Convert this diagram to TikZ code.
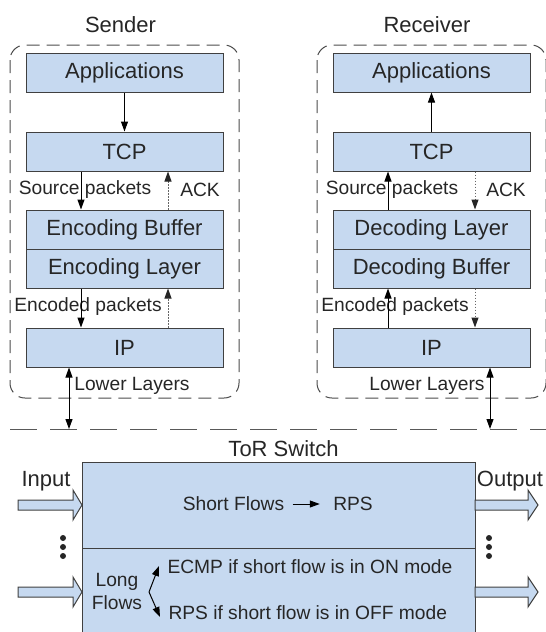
\documentclass[tikz,border=0pt]{standalone}
\usepackage{fontspec}
\setmainfont{Liberation Sans}
\usetikzlibrary{arrows.meta}

\definecolor{layerblue}{RGB}{198,217,240}

\tikzset{
  stackbox/.style={draw=black!75, fill=layerblue, minimum width=98.5pt,
    minimum height=19.5pt, inner sep=0pt, font=\fontsize{11}{13}\selectfont},
  switchpart/.style={draw=black!75, fill=layerblue, minimum width=196.5pt, inner sep=0pt},
  hosttitle/.style={inner sep=0pt, font=\fontsize{11}{13}\selectfont},
  lbl/.style={inner sep=0pt, font=\fontsize{9.6}{11.5}\selectfont},
  hostbox/.style={draw=black!70, dash pattern=on 6.5pt off 3.5pt, rounded corners=7.5pt},
  busline/.style={draw=black!65, dash pattern=on 13.5pt off 6.5pt},
  pktarrow/.style={-{Triangle[length=5pt,width=3.5pt]}},
  ackarrow/.style={-{Triangle[length=5pt,width=3.5pt,black!85]}, black!60,
    dash pattern=on 0.6pt off 0.9pt},
  linkarrow/.style={{Triangle[length=5pt,width=3.5pt]}-{Triangle[length=5pt,width=3.5pt]}},
  fatarrow/.style={draw=black!75, fill=layerblue},
}

\begin{document}
\begin{tikzpicture}[x=0.5pt, y=-0.5pt, line width=0.5pt, text=black!85]

\clip (0,0) rectangle (546,632);

% sender stack
\begin{scope}
  \draw[hostbox] (10,45) rectangle (239,398);
  \node[hosttitle] (sndr) at (120.5,25) {Sender};
  \node[stackbox] (appS) at (124.5,72.5) {Applications};
  \node[stackbox] (tcpS) at (124.5,151.5) {TCP};
  \node[stackbox] (bufS) at (124.5,229.5) {Encoding Buffer};
  \node[stackbox] (encS) at (124.5,268.5) {Encoding Layer};
  \node[stackbox] (ipS) at (124.5,347.5) {IP};
  \node[lbl] (srcS) at (85,190) {Source packets};
  \node[lbl] (ackS) at (200,190) {ACK};
  \node[lbl] (codS) at (88,307) {Encoded packets};
  \node[lbl] (lowS) at (132,386) {Lower Layers};
  \coordinate (busS) at (69,429);
  \draw[pktarrow] (appS) -- (tcpS);
  \draw[pktarrow] ([xshift=-21.75pt]tcpS.south) -- ([xshift=-21.75pt]bufS.north);
  \draw[ackarrow] ([xshift=21.75pt]bufS.north) -- ([xshift=21.75pt]tcpS.south);
  \draw[pktarrow] ([xshift=-21.75pt]encS.south) -- ([xshift=-21.75pt]ipS.north);
  \draw[ackarrow] ([xshift=21.75pt]ipS.north) -- ([xshift=21.75pt]encS.south);
  \draw[linkarrow] (ipS.south -| busS) -- (busS);
\end{scope}

% receiver stack
\begin{scope}[xshift=153.5pt]
  \draw[hostbox] (10,45) rectangle (239,398);
  \node[hosttitle] (rcvr) at (120,25) {Receiver};
  \node[stackbox] (appR) at (124.5,72.5) {Applications};
  \node[stackbox] (tcpR) at (124.5,151.5) {TCP};
  \node[stackbox] (decR) at (124.5,229.5) {Decoding Layer};
  \node[stackbox] (bufR) at (124.5,268.5) {Decoding Buffer};
  \node[stackbox] (ipR) at (124.5,347.5) {IP};
  \node[lbl] (srcR) at (85,190) {Source packets};
  \node[lbl] (ackR) at (199,190) {ACK};
  \node[lbl] (codR) at (88,307) {Encoded packets};
  \node[lbl] (lowR) at (120,386) {Lower Layers};
  \coordinate (busR) at (183,429);
  \draw[pktarrow] (tcpR) -- (appR);
  \draw[pktarrow] ([xshift=-21.75pt]decR.north) -- ([xshift=-21.75pt]tcpR.south);
  \draw[ackarrow] ([xshift=21.75pt]tcpR.south) -- ([xshift=21.75pt]decR.north);
  \draw[pktarrow] ([xshift=-21.75pt]ipR.north) -- ([xshift=-21.75pt]bufR.south);
  \draw[ackarrow] ([xshift=21.75pt]bufR.south) -- ([xshift=21.75pt]ipR.north);
  \draw[linkarrow] (ipR.south -| busR) -- (busR);
\end{scope}

\draw[busline] (10,429) -- (546,429);

% ToR switch
\node[hosttitle] (tor) at (283.5,449) {ToR Switch};
\node[switchpart, minimum height=43pt] (shortpart) at (278.5,505) {};
\node[switchpart, minimum height=46pt] (longpart) at (278.5,594) {};

\node[lbl] (shortfl) at (233.5,504) {Short Flows};
\node[lbl] (rpsS) at (353,504) {RPS};
\draw[pktarrow] ([xshift=4pt]shortfl.east) -- ([xshift=-6.5pt]rpsS.west);

\node[lbl, align=center] (longfl) at (117,591) {Long\\Flows};
\node[lbl, anchor=west] (ecmp) at (167,567) {ECMP if short flow is in ON mode};
\node[lbl, anchor=west] (rpsL) at (168,613) {RPS if short flow is in OFF mode};
\coordinate (fork) at (149,592);
\draw[pktarrow] (fork) -- ([xshift=-4pt,yshift=0.5pt]ecmp.west);
\draw[pktarrow] (fork) -- ([xshift=-4pt,yshift=-2pt]rpsL.west);

% ports
\node[hosttitle] (inlbl) at (46,481) {Input};
\node[hosttitle] (outlbl) at (510,481) {Output};
\foreach \y in {505,592} {
  \draw[fatarrow] (18,\y-5) -- (73,\y-5) -- (73,\y-15) -- (82,\y)
    -- (73,\y+15) -- (73,\y+5) -- (18,\y+5) -- cycle;
  \draw[fatarrow] (475,\y-5) -- (528,\y-5) -- (528,\y-15) -- (538,\y)
    -- (528,\y+15) -- (528,\y+5) -- (475,\y+5) -- cycle;
}
\foreach \d in {538,547,556} {
  \fill[black!85] (63,\d) circle (1.5pt);
  \fill[black!85] (489,\d) circle (1.5pt);
}

\end{tikzpicture}
\end{document}
